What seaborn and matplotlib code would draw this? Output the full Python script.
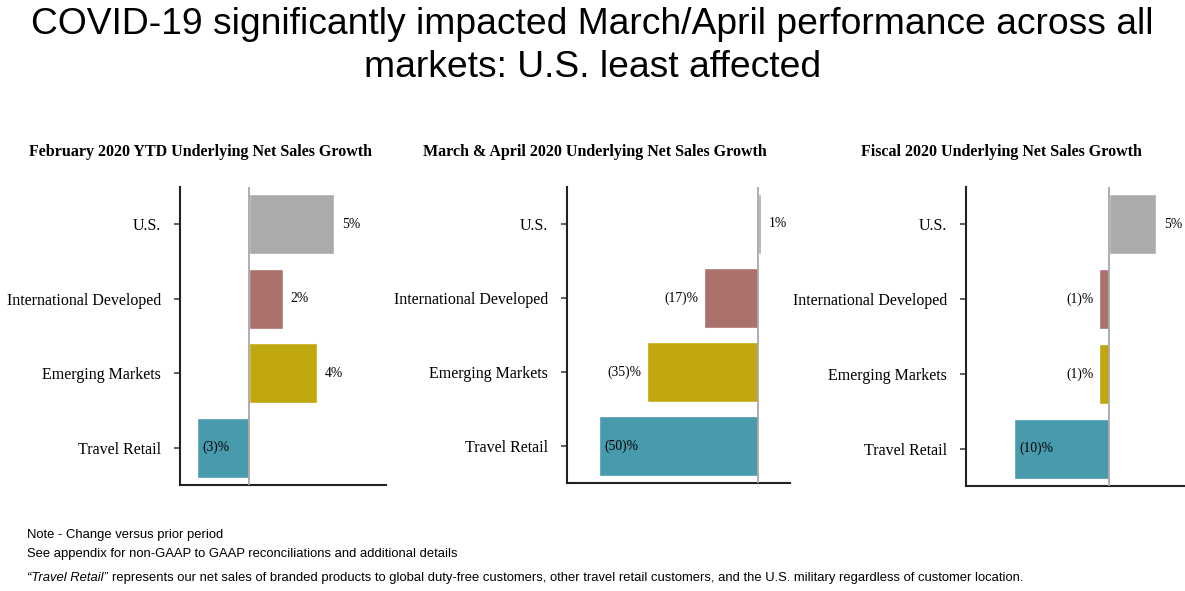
import matplotlib
matplotlib.use('Agg')
import matplotlib.pyplot as plt
import seaborn as sns
import pandas as pd

# 데이터
markets = ['U.S.', 'International Developed', 'Emerging Markets', 'Travel Retail']
feb_ytd = [5, 2, 4, -3]
mar_apr = [1, -17, -35, -50]
fiscal = [5, -1, -1, -10]
panel_titles = ['February 2020 YTD Underlying Net Sales Growth',
                'March & April 2020 Underlying Net Sales Growth',
                'Fiscal 2020 Underlying Net Sales Growth']
colors = ['#ABABAB', '#AB716B', '#BFA70D', '#489AAD']

sns.set_style('white')
plt.rcParams['font.family'] = ['Liberation Serif', 'DejaVu Serif']
plt.rcParams['text.color'] = 'black'
plt.rcParams['ytick.labelcolor'] = 'black'

fig = plt.figure(figsize=(11.85, 5.91), dpi=100)

# 축 위치 (figure 비율)
boxes = [(0.1519, 0.1794, 0.1738, 0.5042),
         (0.4785, 0.1828, 0.1882, 0.5008),
         (0.8152, 0.1777, 0.1848, 0.5059)]
xlims = [(-4, 8), (-60, 10), (-15, 8)]
title_x = [0.169, 0.502, 0.845]

for vals, box, xl, ttl, tx in zip([feb_ytd, mar_apr, fiscal], boxes, xlims, panel_titles, title_x):
    ax = fig.add_axes(box)
    df = pd.DataFrame({'market': markets, 'growth': vals})
    sns.barplot(data=df, y='market', x='growth', hue='market', palette=colors,
                orient='h', width=0.8, saturation=1, legend=False, ax=ax)
    ax.set_xlim(*xl)
    ax.set_ylim(3.5, -0.5)
    ax.axvline(0, color='#A8A8A8', lw=1.3, zorder=3)
    ax.set_xlabel('')
    ax.set_ylabel('')
    ax.set_xticks([])
    sns.despine(ax=ax)
    for s in ['left', 'bottom']:
        ax.spines[s].set_color('#222222')
        ax.spines[s].set_linewidth(1.5)
    ax.tick_params(axis='y', length=4.5, width=1.2, color='#444444', pad=9,
                   labelsize=11.5, left=True, labelcolor='black')

    # 값 라벨
    span = xl[1] - xl[0]
    for i, v in enumerate(vals):
        if v >= 0:
            ax.text(v + span * 0.035, i, f'{v}%', va='center', ha='left', fontsize=9.8)
        elif v == min(vals):
            ax.text(v + span * 0.025, i, f'({-v})%', va='center', ha='left', fontsize=9.8)
        else:
            ax.text(v - span * 0.025, i, f'({-v})%', va='center', ha='right', fontsize=9.8)

    fig.text(tx, 0.743, ttl, ha='center', va='center', fontsize=11.5, fontweight='bold')

# 제목
fig.text(0.5, 0.958, 'COVID-19 significantly impacted March/April performance across all',
         ha='center', va='center', fontsize=26.8, family=['Liberation Sans', 'DejaVu Sans'])
fig.text(0.5, 0.886, 'markets: U.S. least affected',
         ha='center', va='center', fontsize=26.8, family=['Liberation Sans', 'DejaVu Sans'])

# 각주
note_font = ['Liberation Sans Narrow', 'Liberation Sans', 'DejaVu Sans']
fig.text(0.023, 1 - 535 / 591, 'Note - Change versus prior period',
         ha='left', va='center', fontsize=9.4, family=note_font)
fig.text(0.023, 1 - 554 / 591, 'See appendix for non-GAAP to GAAP reconciliations and additional details',
         ha='left', va='center', fontsize=9.4, family=note_font)
t1 = fig.text(0.023, 1 - 578 / 591, '\u201cTravel Retail\u201d',
              ha='left', va='center', fontsize=9.4, family=note_font, style='italic')
fig.canvas.draw()
bb = t1.get_window_extent(renderer=fig.canvas.get_renderer())
fig.text(bb.x1 / fig.bbox.width + 0.003, 1 - 578 / 591,
         'represents our net sales of branded products to global duty-free customers, '
         'other travel retail customers, and the U.S. military regardless of customer location.',
         ha='left', va='center', fontsize=9.4, family=note_font)

fig.savefig('out.png', dpi=100)
